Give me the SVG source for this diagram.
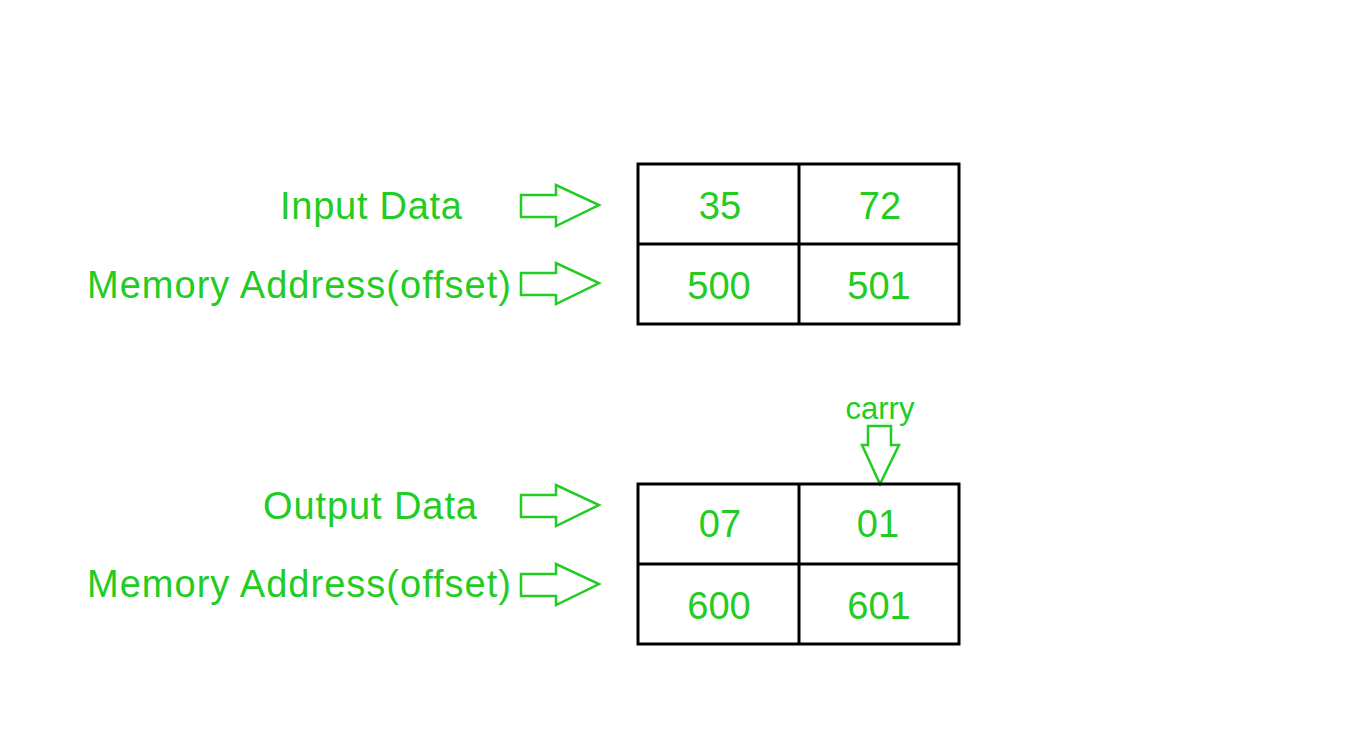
<svg xmlns="http://www.w3.org/2000/svg" width="1356" height="741" viewBox="0 0 1356 741">
<style>
text{font-family:"Liberation Sans",Arial,sans-serif;font-size:38px;fill:#22cc22}
.c{text-anchor:middle}
.cell{fill:none;stroke:#000;stroke-width:3}
.arr{fill:none;stroke:#22cc22;stroke-width:2.5;stroke-linejoin:miter}
</style>
<rect width="1356" height="741" fill="#fff"/>
<g id="labels">
<text x="280" y="219" textLength="182">Input Data</text>
<text x="87" y="298" textLength="424">Memory Address(offset)</text>
<text x="263" y="519" textLength="214">Output Data</text>
<text x="87" y="597" textLength="424">Memory Address(offset)</text>
<text x="880" y="419" class="c" style="font-size:31px">carry</text>
</g>
<g id="connectors">
<path class="arr" d="M521,195 H556 V185 L599,205 L556,226 V217 H521 Z"/>
<path class="arr" d="M521,273 H556 V263 L599,283 L556,304 V295 H521 Z"/>
<path class="arr" d="M521,495 H556 V485 L599,505 L556,526 V517 H521 Z"/>
<path class="arr" d="M521,574 H556 V564 L599,584 L556,605 V596 H521 Z"/>
<path class="arr" d="M868,426 H891 V445 H899 L880,484 L862,445 H868 Z"/>
</g>
<g id="table-input">
<rect class="cell" x="638" y="164" width="321" height="160"/>
<line class="cell" x1="638" y1="244" x2="959" y2="244"/>
<line class="cell" x1="799" y1="164" x2="799" y2="324"/>
<text x="720" y="219" class="c">35</text>
<text x="880" y="219" class="c">72</text>
<text x="719" y="299" class="c">500</text>
<text x="879" y="299" class="c">501</text>
</g>
<g id="table-output">
<rect class="cell" x="638" y="484" width="321" height="160"/>
<line class="cell" x1="638" y1="564" x2="959" y2="564"/>
<line class="cell" x1="799" y1="484" x2="799" y2="644"/>
<text x="720" y="537" class="c">07</text>
<text x="878" y="537" class="c">01</text>
<text x="719" y="619" class="c">600</text>
<text x="879" y="619" class="c">601</text>
</g>
</svg>
